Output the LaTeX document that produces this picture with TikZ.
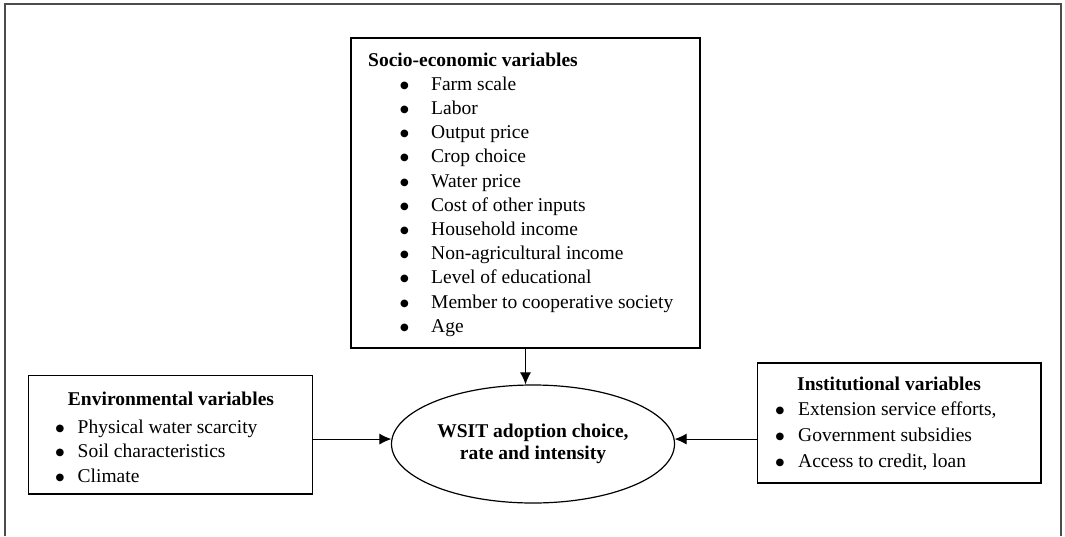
\documentclass[tikz,border=0pt]{standalone}
\usepackage{fontspec}
\setmainfont{Liberation Serif}
\newfontfamily\symf{DejaVu Sans}
\usetikzlibrary{arrows.meta,shapes.geometric}
\newcommand{\fs}{\fontsize{19.5}{22}\selectfont}
\newcommand{\bul}[1]{\makebox[#1][l]{\raisebox{2pt}{\symf\fontsize{10}{10}\selectfont ●}}}
\tikzset{
  box/.style={draw,line width=1.3pt,inner sep=0pt},
  item/.style={anchor=base west,inner sep=0pt},
  head/.style={inner sep=0pt,font=\fs\bfseries},
  arr/.style={-{Latex[length=12pt,width=11pt]},line width=1pt}
}
\begin{document}
\begin{tikzpicture}[x=1pt,y=-1pt,font=\fs]
  \useasboundingbox (0,0) rectangle (1065,536);
  \draw[line width=1.2pt,black!70] (5,536) -- (5,4) -- (1061,4) -- (1061,536);
  % boxes
  \node[box,minimum width=349pt,minimum height=310pt] (soc) at (525.5,193) {};
  \node[box,minimum width=284pt,minimum height=118.5pt] (env) at (170.5,434.8) {};
  \node[box,minimum width=283.5pt,minimum height=120pt] (inst) at (899.2,423) {};
  \node[ellipse,draw,line width=1.2pt,minimum width=283pt,minimum height=118pt,
        align=center,font=\fs\bfseries] (wsit) at (533,444)
        {WSIT adoption choice,\\rate and intensity};
  % socio-economic
  \node[head,anchor=base west] (socH) at (368,66) {Socio-economic variables};
  \foreach \txt [count=\i] in {Farm scale,Labor,Output price,Crop choice,Water price,
      Cost of other inputs,Household income,Non-agricultural income,
      Level of educational,Member to cooperative society,Age}
    \node[item] (s\i) at (400,{66+24.2*\i}) {\bul{31pt}\txt};
  % environmental
  \node[head,anchor=base] (envH) at (171,405) {Environmental variables};
  \foreach \txt [count=\i] in {Physical water scarcity,Soil characteristics,Climate}
    \node[item] (e\i) at (55.5,{408.5+24.5*\i}) {\bul{22pt}\txt};
  % institutional
  \node[head,anchor=base west] (instH) at (797,390) {Institutional variables};
  \foreach \txt [count=\i] in {{Extension service efforts,},Government subsidies,
      {Access to credit, loan}}
    \node[item] (n\i) at (775.5,{389+26*\i}) {\bul{22.5pt}\txt};
  % arrows
  \draw[arr] (soc.south) -- (soc.south |- wsit.north);
  \draw[arr] (env.east |- wsit.178.8) -- (wsit.178.8);
  \draw[arr] (inst.west |- wsit.2.5) -- (wsit.2.5);
\end{tikzpicture}
\end{document}
